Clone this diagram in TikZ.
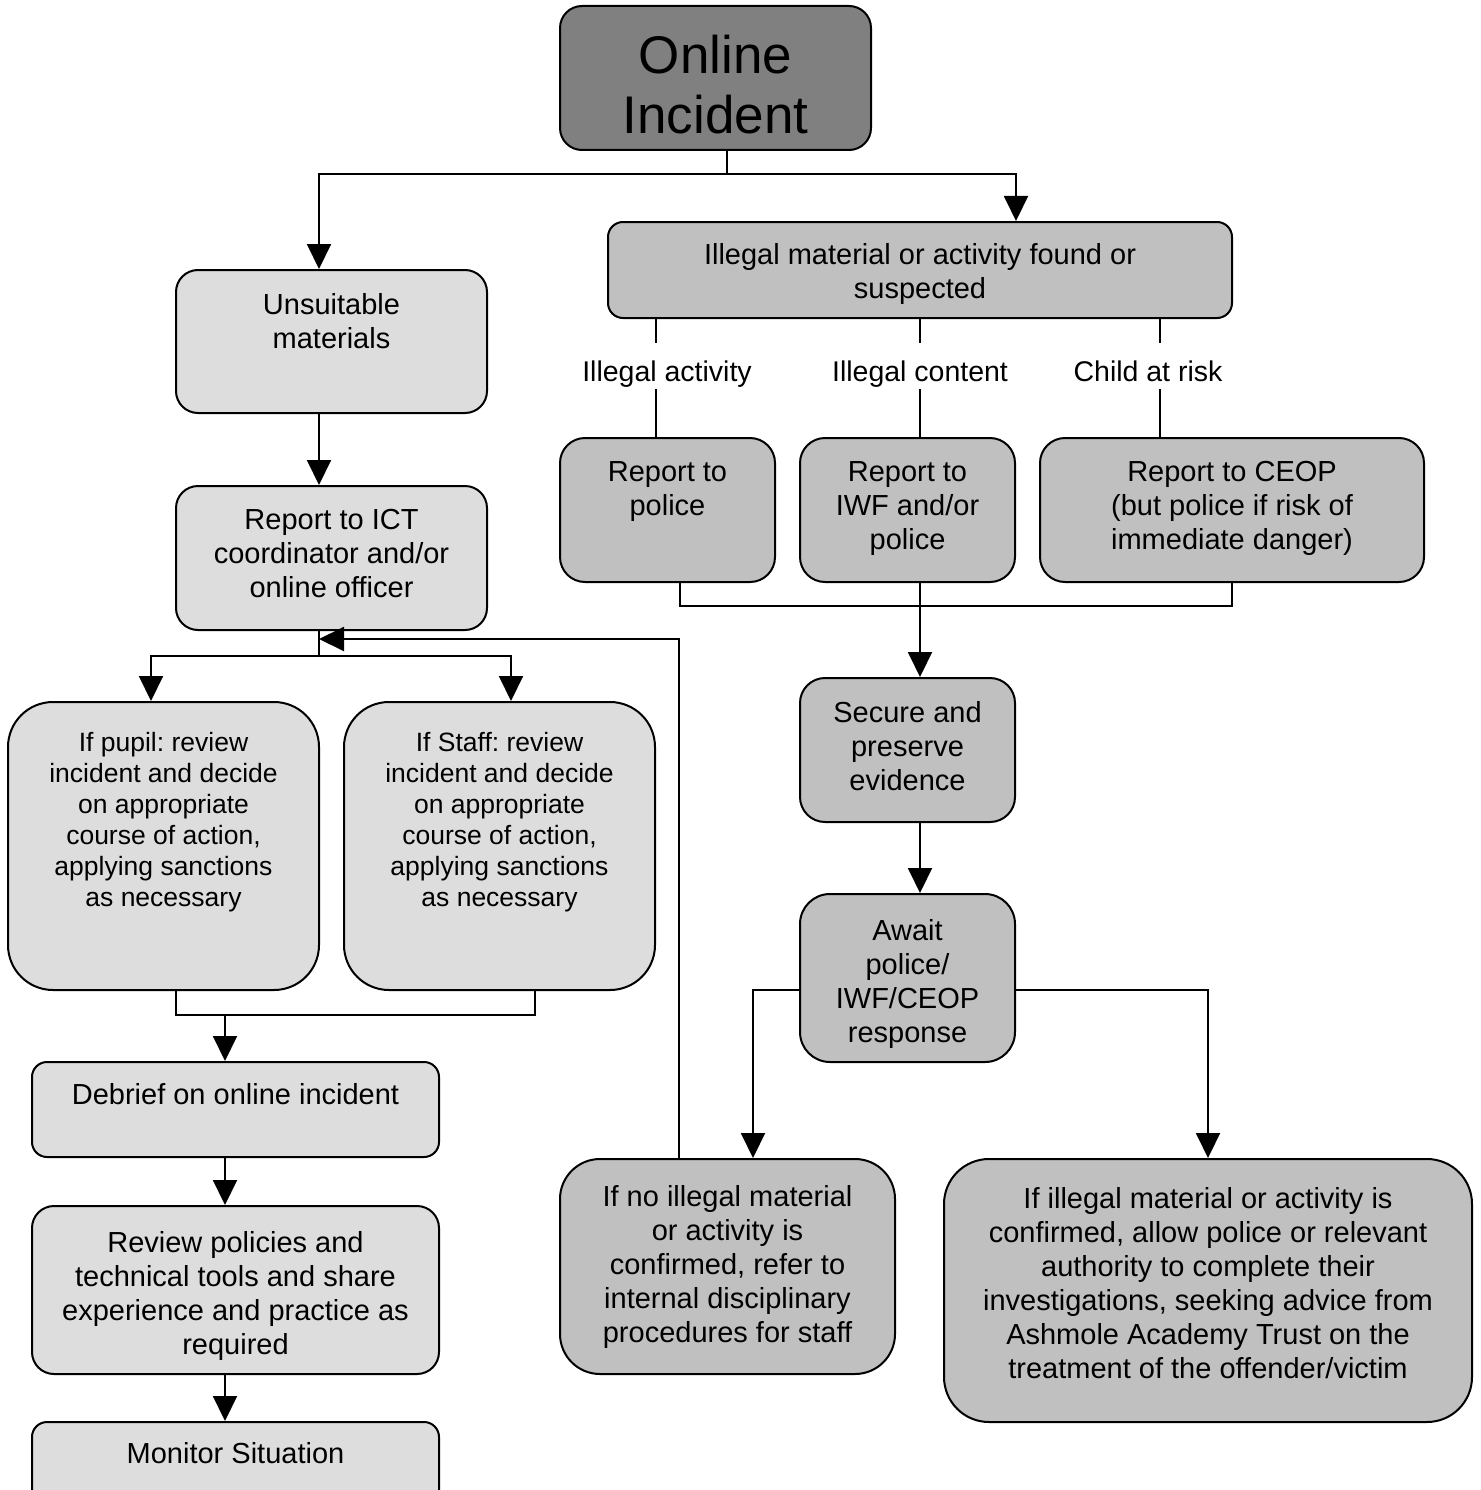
\documentclass[tikz,border=0pt]{standalone}
\usepackage{fontspec}
\setmainfont{Liberation Sans}
\usetikzlibrary{arrows.meta}
\definecolor{dk}{HTML}{808080}
\definecolor{md}{HTML}{C0C0C0}
\definecolor{lt}{HTML}{DDDDDD}
\frenchspacing
\begin{document}
\begin{tikzpicture}[x=1pt,y=-1pt,
  box/.style={draw=black, line width=2pt, rounded corners=#1, inner sep=0pt},
  box/.default=20pt,
  txt/.style={font=\fontsize{29}{34}\selectfont, align=center, inner sep=0pt, anchor=north},
  stxt/.style={font=\fontsize{26.5}{31}\selectfont, align=center, inner sep=0pt, anchor=north},
  btxt/.style={font=\fontsize{53}{60}\selectfont, align=center, inner sep=0pt, anchor=north},
  lbl/.style={font=\fontsize{28.5}{34}\selectfont, inner sep=0pt, anchor=north},
  ln/.style={line width=2pt},
  arr/.style={line width=2pt, -{Triangle[length=25pt,width=24pt]}}]
\clip (0,0) rectangle (1480,1490);
\fill[white] (0,0) rectangle (1480,1490);

% boxes
\node[box=22pt, fill=dk, minimum width=311pt, minimum height=144pt] (inc) at (715.5,78) {};
\node[box=22pt, fill=lt, minimum width=311pt, minimum height=143pt] (uns) at (331.5,341.5) {};
\node[box=22pt, fill=lt, minimum width=311pt, minimum height=144pt] (ict) at (331.5,558) {};
\node[box=45pt, fill=lt, minimum width=311pt, minimum height=288pt] (pup) at (163.5,846) {};
\node[box=45pt, fill=lt, minimum width=311pt, minimum height=288pt] (stf) at (499.5,846) {};
\node[box=15pt, fill=lt, minimum width=407pt, minimum height=95pt] (deb) at (235.5,1109.5) {};
\node[box=22pt, fill=lt, minimum width=407pt, minimum height=168pt] (rev) at (235.5,1290) {};
\node[box=15pt, fill=lt, minimum width=407pt, minimum height=100pt] (mon) at (235.5,1472) {};
\node[box=15pt, fill=md, minimum width=624pt, minimum height=96pt] (ill) at (920,270) {};
\node[box=25pt, fill=md, minimum width=215pt, minimum height=144pt] (pol) at (667.5,510) {};
\node[box=25pt, fill=md, minimum width=215pt, minimum height=144pt] (iwf) at (907.5,510) {};
\node[box=25pt, fill=md, minimum width=384pt, minimum height=144pt] (ceop) at (1232,510) {};
\node[box=25pt, fill=md, minimum width=215pt, minimum height=144pt] (sec) at (907.5,750) {};
\node[box=30pt, fill=md, minimum width=215pt, minimum height=168pt] (awt) at (907.5,978) {};
\node[box=40pt, fill=md, minimum width=335pt, minimum height=215pt] (nil) at (727.5,1266.5) {};
\node[box=45pt, fill=md, minimum width=528pt, minimum height=263pt] (cnf) at (1208,1290.5) {};

% texts
\node[btxt] (tinc) at (715.5,35) {Online\\Incident};
\node[txt] (tuns) at (331.5,293) {Unsuitable\\materials};
\node[txt] (tict) at (331.5,509) {Report to ICT\\coordinator and/or\\online officer};
\node[stxt] (tpup) at (163.5,732) {If pupil: review\\incident and decide\\on appropriate\\course of action,\\applying sanctions\\as necessary};
\node[stxt] (tstf) at (499.5,732) {If Staff: review\\incident and decide\\on appropriate\\course of action,\\applying sanctions\\as necessary};
\node[txt] (tdeb) at (235.5,1083) {Debrief on online incident};
\node[txt] (trev) at (235.5,1231) {Review policies and\\technical tools and share\\experience and practice as\\required};
\node[txt] (tmon) at (235.5,1442) {Monitor Situation};
\node[txt] (till) at (920,243) {Illegal material or activity found or\\suspected};
\node[txt] (tpol) at (667.5,461) {Report to\\police};
\node[txt] (tiwf) at (907.5,461) {Report to\\IWF and/or\\police};
\node[txt] (tceop) at (1232,461) {Report to CEOP\\(but police if risk of\\immediate danger)};
\node[txt] (tsec) at (907.5,701) {Secure and\\preserve\\evidence};
\node[txt] (tawt) at (907.5,919) {Await\\police/\\IWF/CEOP\\response};
\node[txt] (tnil) at (727.5,1185) {If no illegal material\\or activity is\\confirmed, refer to\\internal disciplinary\\procedures for staff};
\node[txt] (tcnf) at (1208,1187) {If illegal material or activity is\\confirmed, allow police or relevant\\authority to complete their\\investigations, seeking advice from\\Ashmole Academy Trust on the\\treatment of the offender/victim};

% branch labels
\node[lbl] (la) at (667,361) {Illegal activity};
\node[lbl] (lb) at (920,361) {Illegal content};
\node[lbl] (lc) at (1148,361) {Child at risk};

% connectors: top
\draw[ln] ([xshift=11.5]inc.south) -- ++(0,23) coordinate (j1);
\draw[arr] (j1) -| ([xshift=-12.5]uns.north);
\draw[arr] (j1) -| ([xshift=96]ill.north);

% left column
\draw[arr] ([xshift=-12.5]uns.south) -- ([xshift=-12.5]ict.north);
\draw[ln] ([xshift=-12.5]ict.south) -- ++(0,25) coordinate (j2);
\draw[arr] (j2) -| ([xshift=-12.5]pup.north);
\draw[arr] (j2) -| ([xshift=11.5]stf.north);
\draw[ln] ([xshift=12.5]pup.south) -- ++(0,24) coordinate (j3) -| ([xshift=35.5]stf.south);
\coordinate (d1) at ([xshift=-10.5]deb.north);
\draw[arr] (d1 |- j3) -- (d1);
\draw[arr] ([xshift=-10.5]deb.south) -- ([xshift=-10.5]rev.north);
\draw[arr] ([xshift=-10.5]rev.south) -- ([xshift=-10.5]mon.north);

% feedback
\draw[arr] ([xshift=-48.5]nil.north) |- ([yshift=17]j2);

% branches from illegal box
\draw[ln] ([xshift=-264]ill.south) -- ++(0,24);
\draw[ln] (ill.south) -- ++(0,24);
\draw[ln] ([xshift=240]ill.south) -- ++(0,24);
\draw[ln] ([xshift=-11.5]pol.north) -- ++(0,-48);
\draw[ln] ([xshift=12.5]iwf.north) -- ++(0,-48);
\draw[ln] ([xshift=-72]ceop.north) -- ++(0,-48);

% join reports
\draw[ln] ([xshift=12.5]pol.south) -- ++(0,23) -| (ceop.south);
\draw[arr] ([xshift=12.5]iwf.south) -- ([xshift=12.5]sec.north);
\draw[arr] ([xshift=12.5]sec.south) -- ([xshift=12.5]awt.north);
\draw[arr] ([yshift=-12]awt.west) -| ([xshift=25.5]nil.north);
\draw[arr] ([yshift=-12]awt.east) -| (cnf.north);
\end{tikzpicture}
\end{document}
